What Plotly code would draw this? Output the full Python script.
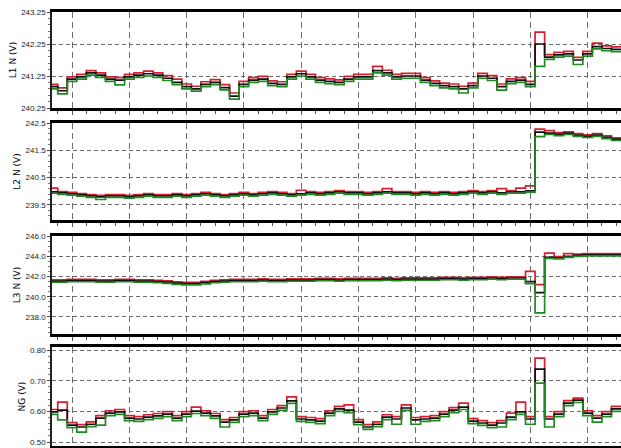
import plotly.graph_objects as go

# ---- Sample index (one point per logging interval) ----
n_samples = 61
samples = list(range(n_samples))

# ---- L1-N voltage (V): max / avg / min per interval ----
l1_avg = [240.92, 240.79, 241.15, 241.22, 241.35, 241.28, 241.15, 241.12, 241.22, 241.28,
          241.32, 241.28, 241.18, 241.05, 240.92, 240.85, 240.99, 241.05, 240.89, 240.62,
          240.99, 241.12, 241.15, 241.02, 240.99, 241.22, 241.32, 241.22, 241.12, 241.08,
          241.05, 241.15, 241.22, 241.22, 241.42, 241.35, 241.22, 241.25, 241.25, 241.12,
          241.02, 240.95, 240.92, 240.85, 240.95, 241.25, 241.18, 240.92, 241.08, 241.12,
          240.99, 242.25, 241.84, 241.91, 241.94, 241.75, 241.94, 242.17, 242.11, 242.08,
          242.08]
l1_max = [240.99, 240.88, 241.22, 241.30, 241.42, 241.35, 241.22, 241.20, 241.30, 241.35,
          241.40, 241.35, 241.26, 241.15, 241.00, 240.93, 241.07, 241.14, 240.98, 240.72,
          241.08, 241.20, 241.24, 241.10, 241.07, 241.30, 241.40, 241.30, 241.20, 241.16,
          241.13, 241.24, 241.30, 241.30, 241.55, 241.43, 241.30, 241.33, 241.33, 241.20,
          241.10, 241.03, 241.00, 240.93, 241.03, 241.33, 241.26, 241.00, 241.16, 241.20,
          241.08, 242.62, 241.92, 241.99, 242.02, 241.83, 242.02, 242.28, 242.19, 242.16,
          242.15]
l1_min = [240.85, 240.69, 241.08, 241.15, 241.28, 241.21, 241.08, 240.97, 241.15, 241.21,
          241.25, 241.21, 241.11, 240.98, 240.85, 240.78, 240.92, 240.98, 240.82, 240.53,
          240.92, 241.05, 241.08, 240.95, 240.92, 241.15, 241.25, 241.15, 241.05, 241.01,
          240.98, 241.08, 241.15, 241.15, 241.35, 241.28, 241.15, 241.18, 241.18, 241.05,
          240.95, 240.88, 240.85, 240.72, 240.88, 241.18, 241.11, 240.81, 241.01, 241.05,
          240.92, 241.55, 241.77, 241.84, 241.87, 241.61, 241.87, 242.10, 242.04, 242.01,
          242.01]

# ---- L2-N voltage (V) ----
l2_avg = [239.98, 239.94, 239.91, 239.87, 239.83, 239.80, 239.83, 239.83, 239.80, 239.83,
          239.87, 239.83, 239.83, 239.87, 239.83, 239.87, 239.91, 239.87, 239.83, 239.87,
          239.91, 239.87, 239.91, 239.94, 239.91, 239.87, 239.91, 239.94, 239.91, 239.94,
          239.98, 239.94, 239.94, 239.91, 239.94, 239.98, 239.94, 239.94, 239.91, 239.94,
          239.91, 239.94, 239.91, 239.94, 239.98, 239.94, 239.98, 239.94, 239.98, 239.98,
          240.02, 242.17, 242.13, 242.09, 242.13, 242.06, 242.02, 242.06, 241.98, 241.91,
          241.87]
l2_max = [240.12, 239.99, 239.96, 239.92, 239.88, 239.85, 239.88, 239.88, 239.85, 239.88,
          239.92, 239.88, 239.88, 239.92, 239.88, 239.92, 239.96, 239.92, 239.88, 239.92,
          239.96, 239.92, 239.96, 239.99, 239.96, 239.92, 240.04, 239.99, 239.96, 239.99,
          240.03, 239.99, 239.99, 239.96, 239.99, 240.10, 239.99, 239.99, 239.96, 239.99,
          239.96, 239.99, 239.96, 239.99, 240.03, 239.99, 240.03, 240.10, 240.03, 240.12,
          240.20, 242.28, 242.22, 242.15, 242.18, 242.11, 242.07, 242.11, 242.03, 241.96,
          241.92]
l2_min = [239.93, 239.89, 239.86, 239.82, 239.78, 239.70, 239.78, 239.78, 239.75, 239.78,
          239.82, 239.78, 239.78, 239.82, 239.78, 239.82, 239.86, 239.82, 239.78, 239.82,
          239.86, 239.82, 239.86, 239.89, 239.86, 239.82, 239.86, 239.89, 239.86, 239.89,
          239.93, 239.89, 239.89, 239.86, 239.89, 239.93, 239.89, 239.89, 239.86, 239.89,
          239.86, 239.89, 239.86, 239.89, 239.93, 239.89, 239.93, 239.89, 239.93, 239.93,
          239.97, 242.00, 242.08, 242.04, 242.08, 242.01, 241.97, 242.01, 241.93, 241.86,
          241.82]

# ---- L3-N voltage (V) ----
l3_avg = [241.55, 241.55, 241.60, 241.60, 241.60, 241.55, 241.55, 241.60, 241.60, 241.55,
          241.55, 241.50, 241.45, 241.35, 241.30, 241.30, 241.40, 241.50, 241.55, 241.60,
          241.60, 241.60, 241.65, 241.60, 241.60, 241.65, 241.65, 241.65, 241.70, 241.70,
          241.65, 241.70, 241.70, 241.70, 241.70, 241.75, 241.70, 241.75, 241.75, 241.75,
          241.75, 241.80, 241.80, 241.75, 241.80, 241.80, 241.85, 241.80, 241.85, 241.85,
          241.50, 240.40, 243.90, 243.85, 244.00, 244.10, 244.15, 244.15, 244.15, 244.15,
          244.15]
l3_max = [241.67, 241.67, 241.72, 241.72, 241.72, 241.67, 241.67, 241.72, 241.72, 241.67,
          241.67, 241.62, 241.57, 241.47, 241.42, 241.42, 241.52, 241.62, 241.67, 241.72,
          241.72, 241.72, 241.77, 241.72, 241.72, 241.77, 241.77, 241.77, 241.82, 241.82,
          241.77, 241.82, 241.82, 241.82, 241.82, 241.87, 241.82, 241.87, 241.87, 241.87,
          241.87, 241.92, 241.92, 241.87, 241.92, 241.92, 241.97, 241.92, 241.97, 241.97,
          242.50, 241.20, 244.30, 243.97, 244.25, 244.22, 244.27, 244.27, 244.27, 244.27,
          244.27]
l3_min = [241.43, 241.43, 241.48, 241.48, 241.48, 241.43, 241.43, 241.48, 241.48, 241.43,
          241.43, 241.38, 241.33, 241.23, 241.18, 241.18, 241.28, 241.38, 241.43, 241.48,
          241.48, 241.48, 241.53, 241.48, 241.48, 241.53, 241.53, 241.53, 241.58, 241.58,
          241.53, 241.58, 241.58, 241.58, 241.58, 241.63, 241.58, 241.63, 241.63, 241.63,
          241.63, 241.68, 241.68, 241.63, 241.68, 241.68, 241.73, 241.68, 241.73, 241.73,
          241.30, 238.40, 243.80, 243.73, 243.88, 243.98, 244.03, 244.03, 244.03, 244.03,
          244.03]

# ---- Neutral-ground voltage (V) ----
ng_avg = [0.598, 0.604, 0.555, 0.549, 0.558, 0.578, 0.594, 0.598, 0.578, 0.575,
          0.581, 0.585, 0.591, 0.578, 0.591, 0.601, 0.594, 0.585, 0.565, 0.572,
          0.591, 0.594, 0.578, 0.598, 0.611, 0.634, 0.575, 0.572, 0.568, 0.594,
          0.608, 0.604, 0.565, 0.549, 0.558, 0.581, 0.575, 0.611, 0.572, 0.575,
          0.578, 0.591, 0.604, 0.614, 0.568, 0.562, 0.555, 0.562, 0.581, 0.598,
          0.575, 0.738, 0.575, 0.591, 0.627, 0.637, 0.594, 0.578, 0.591, 0.608,
          0.608]
ng_max = [0.606, 0.630, 0.563, 0.557, 0.566, 0.586, 0.602, 0.606, 0.586, 0.583,
          0.589, 0.593, 0.599, 0.586, 0.599, 0.614, 0.602, 0.593, 0.573, 0.580,
          0.599, 0.602, 0.586, 0.606, 0.619, 0.647, 0.583, 0.580, 0.576, 0.602,
          0.616, 0.621, 0.573, 0.557, 0.566, 0.589, 0.583, 0.621, 0.580, 0.583,
          0.586, 0.599, 0.612, 0.627, 0.576, 0.570, 0.563, 0.570, 0.594, 0.630,
          0.583, 0.774, 0.583, 0.599, 0.635, 0.643, 0.602, 0.586, 0.599, 0.616,
          0.616]
ng_min = [0.590, 0.572, 0.547, 0.532, 0.550, 0.555, 0.586, 0.590, 0.570, 0.567,
          0.573, 0.577, 0.583, 0.570, 0.583, 0.593, 0.586, 0.577, 0.549, 0.564,
          0.583, 0.586, 0.570, 0.590, 0.603, 0.626, 0.567, 0.564, 0.560, 0.586,
          0.600, 0.596, 0.557, 0.541, 0.550, 0.573, 0.558, 0.603, 0.558, 0.567,
          0.570, 0.583, 0.596, 0.606, 0.560, 0.554, 0.547, 0.549, 0.573, 0.590,
          0.558, 0.692, 0.549, 0.583, 0.619, 0.629, 0.586, 0.565, 0.583, 0.600,
          0.600]

panels = [
    ("L1 N (V)", l1_max, l1_avg, l1_min, [240.25, 243.25], 240.25, 1.0, ".2f", [0.7589, 0.9732]),
    ("L2 N (V)", l2_max, l2_avg, l2_min, [238.95, 242.5], 239.5, 1.0, ".1f", [0.5089, 0.7254]),
    ("L3 N (V)", l3_max, l3_avg, l3_min, [236.32, 246.0], 238.0, 2.0, ".1f", [0.2545, 0.4732]),
    ("NG (V)", ng_max, ng_avg, ng_min, [0.487, 0.810], 0.5, 0.1, ".2f", [0.0045, 0.2254]),
]

colors = {"max": "#d42030", "avg": "#111111", "min": "#1f8a22"}

fig = go.Figure()
layout = {}
for k, (title, vmax, vavg, vmin, yr, t0, dt, fmt, dom) in enumerate(panels, start=1):
    xa = "x" if k == 1 else f"x{k}"
    ya = "y" if k == 1 else f"y{k}"
    for name, vals in (("max", vmax), ("avg", vavg), ("min", vmin)):
        fig.add_trace(go.Scatter(
            x=samples, y=vals, xaxis=xa, yaxis=ya, mode="lines",
            line=dict(shape="hv", color=colors[name], width=1.7),
            showlegend=False, hoverinfo="skip"))
    xkey = "xaxis" if k == 1 else f"xaxis{k}"
    ykey = "yaxis" if k == 1 else f"yaxis{k}"
    layout[xkey] = dict(
        anchor=ya, domain=[0, 1], range=[0.4, 60.0], automargin=False,
        showticklabels=False, tick0=2.5, dtick=6,
        showgrid=True, gridcolor="#6e6e6e", gridwidth=1.3, griddash="6px,4px",
        showline=True, linecolor="#000000", linewidth=2.5, mirror=True,
        ticks="outside", ticklen=4, tickcolor="#555555", tickwidth=1,
        minor=dict(dtick=1.5, tick0=2.5, ticks="outside", ticklen=3,
                   tickcolor="#555555", showgrid=False),
        zeroline=False,
        matches=None if k == 1 else "x",
    )
    layout[ykey] = dict(
        anchor=xa, domain=dom, range=yr, tick0=t0, dtick=dt, tickformat=fmt,
        automargin=False,
        showgrid=True, gridcolor="#6a6a6a", gridwidth=1.3, griddash="4px,3px",
        showline=True, linecolor="#222222", linewidth=1.5, mirror=False,
        ticks="outside", ticklen=3, tickcolor="#444444",
        minor=dict(nticks=5, ticks="outside", ticklen=2, tickcolor="#777777", showgrid=False),
        zeroline=False,
        tickfont=dict(family="Liberation Sans", size=8, color="#222222"),
        title=dict(text=title, standoff=3,
                   font=dict(family="DejaVu Sans", size=9, color="#000000")),
    )

fig.update_layout(
    width=621, height=448,
    margin=dict(l=52, r=0, t=0, b=0),
    paper_bgcolor="white", plot_bgcolor="white",
    **layout,
)

fig.write_html("out.html")
